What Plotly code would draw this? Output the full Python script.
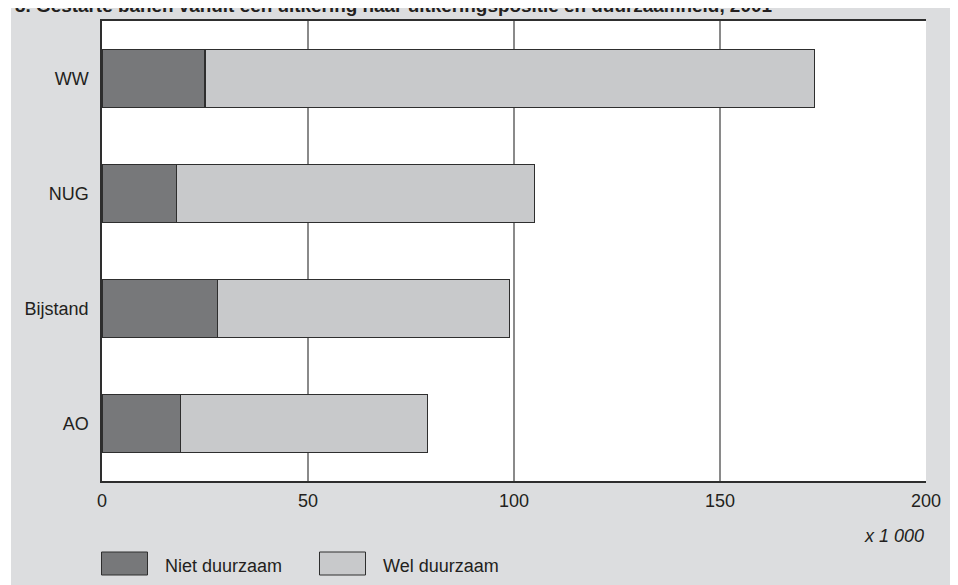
import plotly.graph_objects as go

categories = ["WW", "NUG", "Bijstand", "AO"]
niet_duurzaam = [25, 18, 28, 19]
wel_duurzaam = [148, 87, 71, 60]
x_ticks = [0, 50, 100, 150, 200]
series_names = ["Niet duurzaam", "Wel duurzaam"]
title_text = "3. Gestarte banen vanuit een uitkering naar uitkeringspositie en duurzaamheid, 2001"
unit_text = "x 1 000"

DARK = "#77787a"
LIGHT = "#c8c9cb"
EDGE = "#2e2e2e"
BG = "#dcdddf"
TXT = "#231f20"
FONT = "Arial, Liberation Sans, sans-serif"

# the page body adds an 8px offset; figure coordinates below are page coords minus 8
OFF = 8
W, H = 958 - OFF, 585 - OFF
ML, MR, MT, MB = 102 - OFF, 32, 21 - OFF, 104
PW, PH = W - ML - MR, H - MT - MB


def px_to_paper_x(px):
    return (px - OFF - ML) / PW


def px_to_paper_y(py):
    return (H - MB - (py - OFF)) / PH


fig = go.Figure()
for name, vals, col in zip(series_names, [niet_duurzaam, wel_duurzaam], [DARK, LIGHT]):
    fig.add_trace(go.Bar(
        y=categories, x=vals, name=name, orientation="h",
        marker=dict(color=col, line=dict(color=EDGE, width=1.2)),
        showlegend=False,
    ))

shapes = [
    # white margin strips around the grey panel
    dict(type="rect", xref="paper", yref="paper", layer="below",
         x0=px_to_paper_x(0), x1=px_to_paper_x(11), y0=px_to_paper_y(600), y1=px_to_paper_y(0),
         fillcolor="white", line=dict(width=0)),
    dict(type="rect", xref="paper", yref="paper", layer="below",
         x0=px_to_paper_x(956.5), x1=px_to_paper_x(970), y0=px_to_paper_y(600), y1=px_to_paper_y(0),
         fillcolor="white", line=dict(width=0)),
]
annotations = [
    dict(text="<b>" + title_text + "</b>", xref="paper", yref="paper",
         x=px_to_paper_x(13), y=px_to_paper_y(5.5), xanchor="left", yanchor="middle",
         showarrow=False, font=dict(family=FONT, size=18.9, color=TXT)),
    dict(text="<i>" + unit_text + "</i>", xref="paper", yref="paper",
         x=1, y=px_to_paper_y(536), xanchor="right", yanchor="middle",
         showarrow=False, font=dict(family=FONT, size=18, color=TXT)),
]
# legend swatches and labels
legend_items = [(series_names[0], DARK, 101.5, 163), (series_names[1], LIGHT, 319.5, 381)]
for name, col, bx, tx in legend_items:
    shapes.append(dict(type="rect", xref="paper", yref="paper",
                       x0=px_to_paper_x(bx), x1=px_to_paper_x(bx + 46),
                       y0=px_to_paper_y(575), y1=px_to_paper_y(552),
                       fillcolor=col, line=dict(color=EDGE, width=1)))
    annotations.append(dict(text=name, xref="paper", yref="paper",
                            x=px_to_paper_x(tx), y=px_to_paper_y(566),
                            xanchor="left", yanchor="middle", showarrow=False,
                            font=dict(family=FONT, size=18, color=TXT)))

fig.update_layout(
    width=W, height=H,
    margin=dict(l=ML, r=MR, t=MT, b=MB, pad=0),
    barmode="stack", bargap=0.49,
    paper_bgcolor=BG, plot_bgcolor="white",
    font=dict(family=FONT, size=18, color=TXT),
    shapes=shapes, annotations=annotations,
    showlegend=False,
    xaxis=dict(range=[0, 200], tickvals=x_ticks, ticktext=[str(v) for v in x_ticks],
               showgrid=True, gridcolor="#8a8a8a", gridwidth=1.5,
               showline=True, linecolor=EDGE, linewidth=1.5, mirror=True,
               zeroline=False, ticks="", ticklabelstandoff=3, fixedrange=True),
    yaxis=dict(autorange="reversed", showgrid=False,
               showline=True, linecolor=EDGE, linewidth=1.5,
               zeroline=False, ticks="", ticklabelstandoff=8, fixedrange=True),
)

fig.write_html("out.html")
